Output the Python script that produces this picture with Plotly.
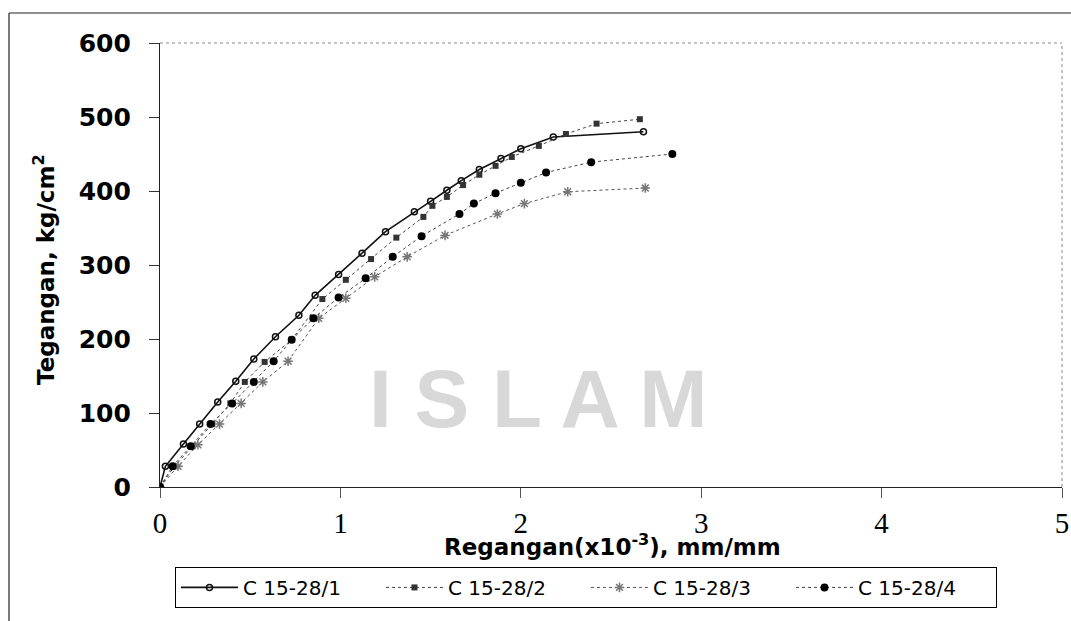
import plotly.graph_objects as go

# Strain (x10^-3 mm/mm) and stress (kg/cm^2)
s1_x = [0, 0.03, 0.13, 0.22, 0.32, 0.42, 0.52, 0.64, 0.77, 0.86, 0.99, 1.12, 1.25, 1.41, 1.50,
        1.59, 1.67, 1.77, 1.89, 2.00, 2.18, 2.68]
s1_y = [0, 28, 58, 85, 115, 143, 173, 203, 232, 259, 287, 316, 345, 372, 386,
        401, 414, 429, 444, 457, 473, 480]

s2_x = [0, 0.08, 0.18, 0.29, 0.39, 0.47, 0.58, 0.73, 0.90, 1.03, 1.17, 1.31, 1.46, 1.51,
        1.59, 1.68, 1.77, 1.86, 1.95, 2.10, 2.25, 2.42, 2.66]
s2_y = [0, 28, 55, 85, 113, 142, 169, 199, 254, 280, 308, 337, 365, 380,
        392, 408, 422, 434, 446, 461, 477, 491, 497]

s3_x = [0, 0.10, 0.21, 0.33, 0.45, 0.57, 0.71, 0.88, 1.03, 1.19, 1.37, 1.58, 1.87, 2.02, 2.26, 2.69]
s3_y = [0, 28, 57, 85, 113, 142, 170, 228, 255, 284, 311, 340, 369, 383, 399, 404]

s4_x = [0, 0.07, 0.17, 0.28, 0.40, 0.52, 0.63, 0.73, 0.85, 0.99, 1.14, 1.29, 1.45, 1.66,
        1.74, 1.86, 2.00, 2.14, 2.39, 2.84]
s4_y = [0, 28, 55, 85, 113, 142, 170, 199, 228, 256, 282, 311, 339, 369,
        383, 397, 411, 425, 439, 450]

names = ["C 15-28/1", "C 15-28/2", "C 15-28/3", "C 15-28/4"]
x_ticks = [0, 1, 2, 3, 4, 5]
y_ticks = [0, 100, 200, 300, 400, 500, 600]

fig = go.Figure()
fig.add_trace(go.Scatter(x=s1_x, y=s1_y, name=names[0], mode="lines+markers",
                         line=dict(color="#111111", width=1.6),
                         marker=dict(symbol="circle-open", size=6, color="#111111",
                                     line=dict(width=1.5, color="#111111"))))
fig.add_trace(go.Scatter(x=s2_x, y=s2_y, name=names[1], mode="lines+markers",
                         line=dict(color="#444444", width=1, dash="dot"),
                         marker=dict(symbol="square", size=6, color="#333333")))
fig.add_trace(go.Scatter(x=s3_x, y=s3_y, name=names[2], mode="lines+markers",
                         line=dict(color="#555555", width=1, dash="dot"),
                         marker=dict(symbol="asterisk-open", size=8, color="#777777",
                                     line=dict(width=1.5, color="#777777"))))
fig.add_trace(go.Scatter(x=s4_x, y=s4_y, name=names[3], mode="lines+markers",
                         line=dict(color="#444444", width=1, dash="dot"),
                         marker=dict(symbol="circle", size=8, color="#000000")))

fig.update_layout(
    width=1071, height=621,
    margin=dict(l=160, r=9, t=43, b=134, autoexpand=False),
    paper_bgcolor="white", plot_bgcolor="white",
    font=dict(family="DejaVu Sans", color="black"),
    showlegend=True,
    legend=dict(orientation="h", x=0.0166, y=-0.18, xanchor="left", yanchor="top",
                bordercolor="black", borderwidth=1, bgcolor="white",
                font=dict(size=20, family="DejaVu Sans"),
                itemwidth=57, entrywidth=133, entrywidthmode="pixels"),
    xaxis=dict(range=[0, 5], tickvals=x_ticks, ticktext=[str(v) for v in x_ticks],
               automargin=False,
               showgrid=False, zeroline=False, showline=True, linecolor="#222222",
               linewidth=1.2, ticks="outside", ticklen=10, tickcolor="#555555",
               tickfont=dict(family="Liberation Serif, Times New Roman", size=29),
               ticklabelstandoff=0),
    yaxis=dict(range=[0, 600], tickvals=y_ticks, automargin=False,
               showgrid=False, zeroline=False, showline=True, linecolor="#222222",
               linewidth=1.2, ticks="outside", ticklen=10, tickcolor="#333333",
               tickfont=dict(family="DejaVu Sans", size=25, weight="bold"),
               ticklabelstandoff=13),
)

# dotted top and right plot-area borders
fig.add_shape(type="line", xref="paper", yref="paper", x0=0, x1=1, y0=1, y1=1,
              line=dict(color="#888888", width=1, dash="dot"))
fig.add_shape(type="line", xref="paper", yref="paper", x0=1, x1=1, y0=0, y1=1,
              line=dict(color="#888888", width=1, dash="dot"))
# outer chart frame (top and left)
fig.add_shape(type="line", xref="paper", yref="paper", x0=-0.1674, x1=1.01, y0=1.0676, y1=1.0676,
              line=dict(color="#222222", width=1.2))
fig.add_shape(type="line", xref="paper", yref="paper", x0=-0.1674, x1=-0.1674, y0=-0.31, y1=1.0676,
              line=dict(color="#222222", width=1.2))

# faint background watermark of the scanned page
fig.add_annotation(text="I S L A M", xref="paper", yref="paper", x=0.42, y=0.2,
                   showarrow=False, xanchor="center", yanchor="middle",
                   font=dict(size=82, family="Liberation Sans", color="#d8d8d8", weight="bold"))

# axis titles
fig.add_annotation(text="Regangan(x10<sup>-3</sup>), mm/mm", xref="paper", yref="paper",
                   x=0.502, y=-0.131, showarrow=False, xanchor="center", yanchor="middle",
                   font=dict(size=23, family="DejaVu Sans", weight="bold"))
fig.add_annotation(text="Tegangan, kg/cm<sup>2</sup>", xref="paper", yref="paper",
                   x=-0.128, y=0.49, showarrow=False, textangle=-90,
                   xanchor="center", yanchor="middle",
                   font=dict(size=23, family="DejaVu Sans", weight="bold"))

# remove the default page margin so the figure sits at the window origin
fig.write_html("out.html", config={"displayModeBar": False},
               post_script="document.body.style.margin='0px';")
